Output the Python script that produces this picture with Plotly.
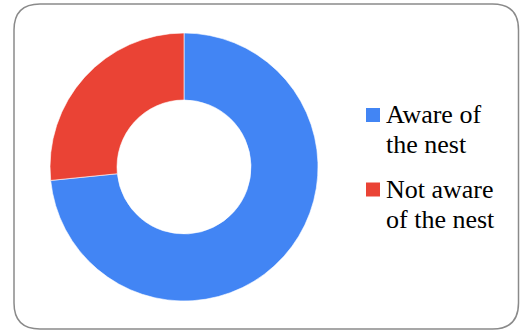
import plotly.graph_objects as go

labels = ["Aware of the nest", "Not aware of the nest"]
label_lines = [["Aware of", "the nest"], ["Not aware", "of the nest"]]
values = [73.4, 26.6]
colors = ["#4285F4", "#EA4335"]

W, H = 520, 332
SERIF = "Liberation Serif, Times New Roman, DejaVu Serif, serif"
def px(x): return x / W
def py(y): return 1 - y / H

fig = go.Figure(go.Pie(
    labels=labels, values=values, hole=0.5, sort=False,
    direction="clockwise", rotation=0,
    marker=dict(colors=colors, line=dict(color="white", width=0.6)),
    textinfo="none", hoverinfo="label+percent", showlegend=False,
    domain=dict(x=[50/W, 318/W], y=[(H-301)/H, (H-33)/H]),
))

# rounded border
x0, x1, y0, y1, r = 14, 518.5, 4, 329, 26
path = (f"M{px(x0+r)},{py(y0)} L{px(x1-r)},{py(y0)} Q{px(x1)},{py(y0)} {px(x1)},{py(y0+r)} "
        f"L{px(x1)},{py(y1-r)} Q{px(x1)},{py(y1)} {px(x1-r)},{py(y1)} "
        f"L{px(x0+r)},{py(y1)} Q{px(x0)},{py(y1)} {px(x0)},{py(y1-r)} "
        f"L{px(x0)},{py(y0+r)} Q{px(x0)},{py(y0)} {px(x0+r)},{py(y0)} Z")
shapes = [dict(type="path", xref="paper", yref="paper", path=path,
               line=dict(color="#8a8a8a", width=1.5), layer="below")]

# legend (drawn manually so the serif font renders)
annotations = []
item_top = [108, 182.5]
for i, (lines, col) in enumerate(zip(label_lines, colors)):
    t = item_top[i]
    shapes.append(dict(type="rect", xref="paper", yref="paper",
                       x0=px(366), x1=px(380), y0=py(t), y1=py(t + 14),
                       fillcolor=col, line=dict(width=0)))
    for j, line in enumerate(lines):
        baseline = t + 16 + j * 29.5
        annotations.append(dict(text=line, xref="paper", yref="paper",
                                x=px(384), y=py(baseline - 9), xanchor="left", yanchor="middle",
                                showarrow=False,
                                font=dict(family=SERIF, size=26, color="black")))

fig.update_layout(
    width=W, height=H, margin=dict(l=0, r=0, t=0, b=0),
    font=dict(family=SERIF, size=26, color="black"),
    paper_bgcolor="white", plot_bgcolor="white",
    shapes=shapes, annotations=annotations, showlegend=False,
)

fig.write_html("out.html", config={"displayModeBar": False},
               post_script="document.body.style.margin='0';document.body.style.overflow='hidden';")
